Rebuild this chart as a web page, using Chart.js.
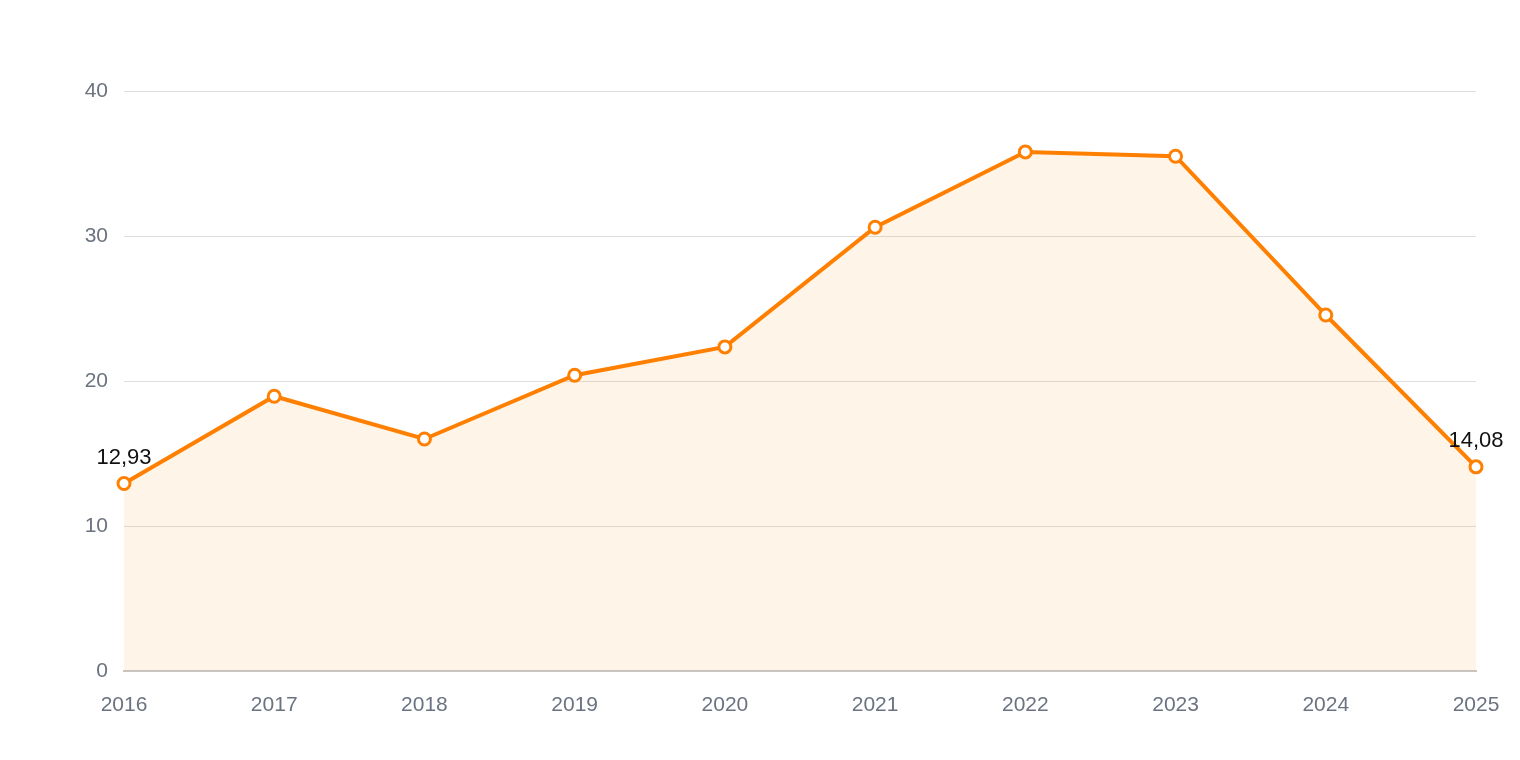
<!DOCTYPE html>
<html>
<head>
<meta charset="utf-8">
<style>
  html, body { margin: 0; padding: 0; background: #fff; }
  #wrap { width: 1520px; height: 760px; }
</style>
<script src="https://cdn.jsdelivr.net/npm/chart.js@4/dist/chart.umd.min.js"></script>
</head>
<body>
<div id="wrap"><canvas id="grafico"></canvas></div>
<script>
const anios = ['2016', '2017', '2018', '2019', '2020', '2021', '2022', '2023', '2024', '2025'];
const valores = [12.93, 18.95, 16.0, 20.4, 22.35, 30.6, 35.8, 35.5, 24.55, 14.08];
const ticksY = [0, 10, 20, 30, 40];

Chart.defaults.font.family = '"Liberation Sans", Arial, Helvetica, sans-serif';
Chart.defaults.color = '#6b7280';

// Etiquetas del primer y último punto
const etiquetasExtremos = {
    id: 'etiquetasExtremos',
    afterDatasetsDraw(chart) {
        const ctx = chart.ctx;
        const meta = chart.getDatasetMeta(0);
        const ult = valores.length - 1;
        ctx.save();
        ctx.font = '22px "Liberation Sans", Arial, sans-serif';
        ctx.fillStyle = '#111';
        ctx.textAlign = 'center';
        ctx.textBaseline = 'alphabetic';
        [0, ult].forEach(i => {
            const p = meta.data[i];
            ctx.fillText(valores[i].toFixed(2).replace('.', ','), p.x, p.y - 20);
        });
        ctx.restore();
    }
};

new Chart(document.getElementById('grafico'), {
    type: 'line',
    data: {
        labels: anios,
        datasets: [{
            data: valores,
            borderColor: '#ff7f00',
            backgroundColor: 'rgba(255, 128, 0, 0.09)',
            borderWidth: 4,
            fill: true,
            tension: 0,
            pointRadius: 6,
            pointBackgroundColor: '#fff',
            pointBorderColor: '#ff7f00',
            pointBorderWidth: 3,
            clip: false
        }]
    },
    options: {
        responsive: true,
        maintainAspectRatio: false,
        animation: false,
        layout: { padding: { top: 91, right: 44, left: 0, bottom: 0 } },
        plugins: {
            legend: { display: false },
            tooltip: { enabled: false }
        },
        scales: {
            x: {
                offset: false,
                grid: { display: false, drawTicks: false },
                border: { color: '#c6c6c6', width: 2 },
                ticks: { font: { size: 21 }, padding: 22, maxRotation: 0 },
                afterFit(scale) {
                    scale.height = 89;
                    scale.paddingLeft = 0;
                    scale.paddingRight = 0;
                }
            },
            y: {
                min: 0,
                max: 40,
                afterBuildTicks(scale) { scale.ticks = ticksY.map(v => ({ value: v })); },
                grid: { color: '#dedede', lineWidth: 1, drawTicks: false },
                border: { display: false },
                ticks: { font: { size: 21 }, padding: 16 },
                afterFit(scale) { scale.width = 124; }
            }
        }
    },
    plugins: [etiquetasExtremos]
});
</script>
</body>
</html>
